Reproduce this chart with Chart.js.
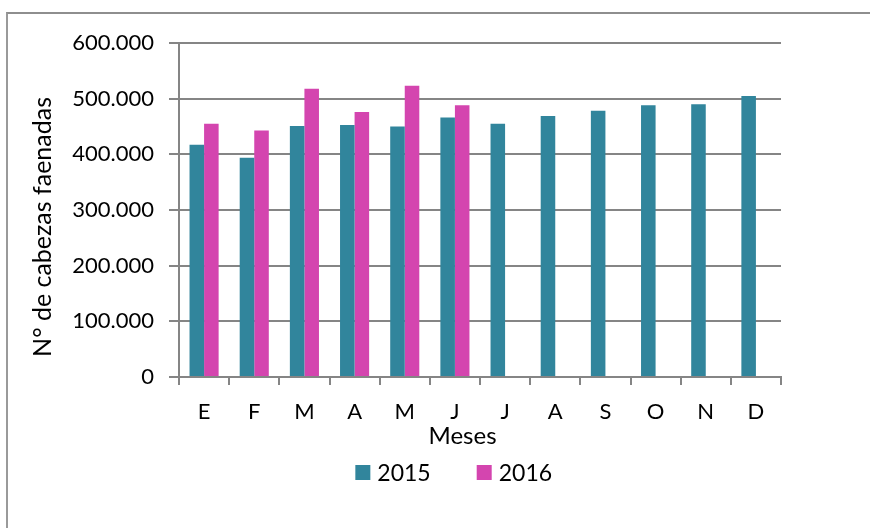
<!DOCTYPE html>
<html>
<head>
<meta charset="utf-8">
<script src="https://cdn.jsdelivr.net/npm/chart.js@4.4.1/dist/chart.umd.min.js"></script>
<style>
html,body{margin:0;padding:0;background:#fff;width:870px;height:528px;overflow:hidden;}
#frame{position:absolute;left:6px;top:12px;width:900px;height:560px;border-left:2px solid #9a9a9a;border-top:2px solid #8e8e8e;}
#wrap{position:absolute;left:0;top:0;width:870px;height:528px;}
</style>
</head>
<body>
<div id="frame"></div>
<div id="wrap"><canvas id="c" width="870" height="528"></canvas></div>
<script>
const categories = ['E','F','M','A','M','J','J','A','S','O','N','D'];
const seriesNames = ['2015','2016'];
const values2015 = [417000, 394000, 451000, 452500, 450000, 466000, 455000, 469000, 478500, 488000, 490000, 505000];
const values2016 = [455000, 443000, 518000, 476000, 523000, 488000, null, null, null, null, null, null];
const seriesColors = ['#31859C', '#D445AF'];
const yMin = 0, yMax = 600000, yStep = 100000;
const xAxisTitle = 'Meses';
const yAxisTitle = 'N° de cabezas faenadas';

const FONT = 'Lato';
Chart.defaults.font.family = FONT;
Chart.defaults.font.size = 22;
Chart.defaults.color = '#000';

function fmt(v){ return v === 0 ? '0' : String(v).replace(/\B(?=(\d{3})+(?!\d))/g, '.'); }

const extras = {
  id: 'extras',
  afterDraw(chart) {
    const {ctx, chartArea: a} = chart;
    // y title
    ctx.save();
    ctx.fillStyle = '#000';
    ctx.font = '25px ' + FONT;
    ctx.translate(43, (a.top + a.bottom) / 2 + 17);
    ctx.rotate(-Math.PI / 2);
    ctx.textAlign = 'center';
    ctx.textBaseline = 'middle';
    ctx.fillText(yAxisTitle, 0, 0);
    ctx.restore();
    // x title
    ctx.save();
    ctx.fillStyle = '#000';
    ctx.font = '24px ' + FONT;
    ctx.textAlign = 'center';
    ctx.textBaseline = 'alphabetic';
    ctx.fillText(xAxisTitle, a.left + 283.5, a.bottom + 66.5);
    ctx.restore();
    // legend
    ctx.save();
    ctx.font = '23px ' + FONT;
    const box = 15, gapText = 7, gapItem = 46;
    const items = chart.data.datasets.map(d => ({label: d.label, color: d.backgroundColor, w: ctx.measureText(d.label).width}));
    let total = 0;
    items.forEach((it, i) => { total += box + gapText + it.w + (i < items.length - 1 ? gapItem : 0); });
    let x = a.left + 274.7 - total / 2;
    const by = a.bottom + 88;
    items.forEach(it => {
      ctx.fillStyle = it.color;
      ctx.fillRect(x, by, box, box);
      ctx.fillStyle = '#000';
      ctx.textAlign = 'left';
      ctx.textBaseline = 'alphabetic';
      ctx.fillText(it.label, x + box + gapText, by + 16);
      x += box + gapText + it.w + gapItem;
    });
    ctx.restore();
  }
};

new Chart(document.getElementById('c'), {
  type: 'bar',
  data: {
    labels: categories,
    datasets: [
      {label: seriesNames[0], data: values2015, backgroundColor: seriesColors[0], borderWidth: 0},
      {label: seriesNames[1], data: values2016, backgroundColor: seriesColors[1], borderWidth: 0}
    ]
  },
  options: {
    responsive: false,
    animation: false,
    devicePixelRatio: 1,
    categoryPercentage: 0.58,
    barPercentage: 1.0,
    layout: {padding: {left: 0, top: 43, right: 89, bottom: 0}},
    plugins: {legend: {display: false}, tooltip: {enabled: false}, title: {display: false}},
    scales: {
      x: {
        grid: {display: true, drawOnChartArea: false, drawTicks: true, tickLength: 8, color: '#858585', lineWidth: 2, offset: true},
        border: {display: true, color: '#858585', width: 2},
        ticks: {padding: 14, font: {size: 22}, color: '#000', maxRotation: 0, autoSkip: false},
        afterFit(s) { s.height = 151; }
      },
      y: {
        min: yMin, max: yMax,
        grid: {color: '#858585', lineWidth: 2, tickLength: 10, drawTicks: true},
        border: {display: true, color: '#858585', width: 2},
        ticks: {stepSize: yStep, padding: 15, font: {size: 22}, color: '#000', callback: v => fmt(v)},
        afterFit(s) { s.width = 179; }
      }
    }
  },
  plugins: [extras]
});
</script>
</body>
</html>
